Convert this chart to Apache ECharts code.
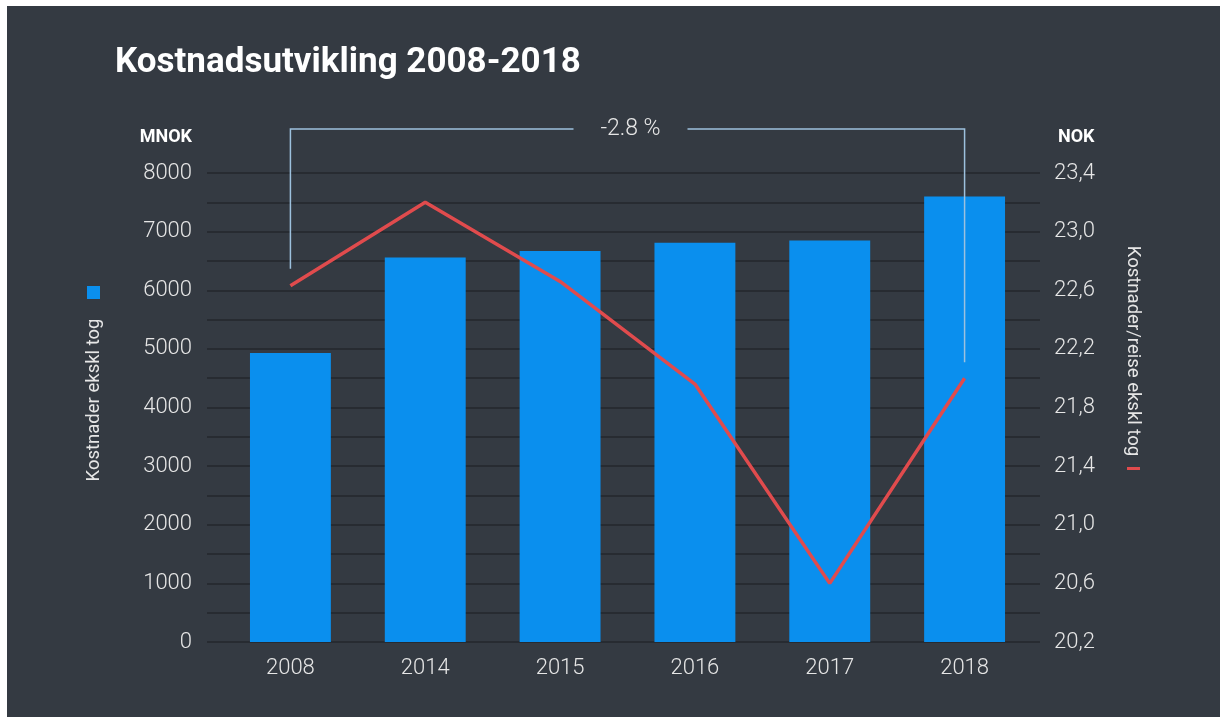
<!DOCTYPE html>
<html><head><meta charset="utf-8">
<script src="https://cdn.jsdelivr.net/npm/echarts@6/dist/echarts.min.js"></script>
<style>
html,body{margin:0;padding:0;background:#ffffff;width:1220px;height:717px;overflow:hidden}
#c{position:absolute;left:7px;top:6px;width:1213px;height:711px;background:#343a42}
</style>
</head><body><div id="c"></div>
<script>
// ---- data ----
const categories = ['2008', '2014', '2015', '2016', '2017', '2018'];
const costs = [4930, 6560, 6670, 6810, 6850, 7600];            // MNOK (bars, left axis)
const costPerTrip = [22.63, 23.20, 22.66, 21.96, 20.60, 22.00]; // NOK (line, right axis)
const leftAxisRange = [0, 8000];
const leftGridStep = 500;
const leftLabelStep = 1000;
const rightAxisRange = [20.2, 23.4];
const rightGridStep = 0.2;
const rightLabelStep = 0.4;
const titleText = 'Kostnadsutvikling 2008-2018';
const barName = 'Kostnader ekskl tog';
const lineName = 'Kostnader/reise ekskl tog';
const leftUnit = 'MNOK';
const rightUnit = 'NOK';

// ---- style ----
const BG = '#343a42';
const GRID = '#23272d';
const TXT = '#e6e6e6';
const BAR = '#0a8fee';
const LINE = '#e04b4d';
const BRACKET = '#9dc1de';
const FONT = 'Roboto, "DejaVu Sans", sans-serif';

const chart = echarts.init(document.getElementById('c'), null, {renderer: 'canvas'});

const gridA = {left: 200, right: 180, top: 167, bottom: 75};
const gridB = {left: 216, right: 188, top: 167, bottom: 75};

const option = {
  backgroundColor: BG,
  animation: false,
  title: {
    text: titleText, left: 108, top: 40, padding: 0,
    textStyle: {color: '#ffffff', fontSize: 35, fontWeight: 'bold', fontFamily: FONT}
  },
  legend: [
    {data: [{name: barName, icon: 'rect'}], left: 80, top: 280, padding: 0,
     itemWidth: 13, itemHeight: 13, selectedMode: false, formatter: () => '',
     textStyle: {fontSize: 1}},
    {data: [{name: lineName, icon: 'rect'}], left: 1120, top: 461, padding: 0,
     itemWidth: 13, itemHeight: 3, selectedMode: false, formatter: () => '',
     textStyle: {fontSize: 1}}
  ],
  grid: [gridA, gridB],
  xAxis: [
    {gridIndex: 0, type: 'category', data: categories, show: false},
    {gridIndex: 1, type: 'category', data: categories,
     axisLine: {show: false}, axisTick: {show: false},
     axisLabel: {color: TXT, fontSize: 22, fontWeight: 300, fontFamily: FONT, margin: 15}}
  ],
  yAxis: [
    {gridIndex: 0, type: 'value', position: 'left', min: leftAxisRange[0], max: leftAxisRange[1],
     interval: leftGridStep,
     axisLine: {show: false}, axisTick: {show: false},
     axisLabel: {color: TXT, fontSize: 22, fontWeight: 300, fontFamily: FONT, margin: 15,
       formatter: v => (Math.round(v - leftAxisRange[0]) % leftLabelStep === 0 ? String(v) : '')},
     splitLine: {show: true, lineStyle: {color: GRID, width: 1.5}}},
    {gridIndex: 0, type: 'value', position: 'right', min: rightAxisRange[0], max: rightAxisRange[1],
     interval: rightGridStep,
     axisLine: {show: false}, axisTick: {show: false}, splitLine: {show: false},
     axisLabel: {color: TXT, fontSize: 22, fontWeight: 300, fontFamily: FONT, margin: 14,
       formatter: v => {
         const k = Math.round((v - rightAxisRange[0]) / rightGridStep);
         const every = Math.round(rightLabelStep / rightGridStep);
         return k % every === 0 ? v.toFixed(1).replace('.', ',') : '';
       }}},
    {gridIndex: 1, type: 'value', min: leftAxisRange[0], max: leftAxisRange[1], show: false},
    {gridIndex: 1, type: 'value', min: rightAxisRange[0], max: rightAxisRange[1], show: false}
  ],
  series: [
    {name: barName, type: 'bar', xAxisIndex: 1, yAxisIndex: 2, data: costs,
     barCategoryGap: '40%', itemStyle: {color: BAR}, z: 2},
    {name: lineName, type: 'line', xAxisIndex: 1, yAxisIndex: 3, data: costPerTrip,
     color: LINE, symbol: 'none', lineStyle: {color: LINE, width: 3.5}, itemStyle: {color: LINE}, z: 3}
  ]
};
chart.setOption(option);

// ---- annotations computed from the scales ----
const p0 = chart.convertToPixel({xAxisIndex: 1, yAxisIndex: 3}, [0, costPerTrip[0]]);
const pN = chart.convertToPixel({xAxisIndex: 1, yAxisIndex: 3}, [categories.length - 1, costPerTrip[costPerTrip.length - 1]]);
const topY = 123;
const cx = (p0[0] + pN[0]) / 2 + 3;
const gap = 57;
const pct = (costPerTrip[costPerTrip.length - 1] / costPerTrip[0] - 1) * 100;
const pctText = pct.toFixed(1) + ' %';

chart.setOption({
  graphic: [
    {type: 'polyline', shape: {points: [[p0[0], p0[1] - 17], [p0[0], topY], [cx - gap, topY]]},
     style: {stroke: BRACKET, lineWidth: 1.5, fill: null}, z: 10},
    {type: 'polyline', shape: {points: [[cx + gap, topY], [pN[0], topY], [pN[0], pN[1] - 16]]},
     style: {stroke: BRACKET, lineWidth: 1.5, fill: null}, z: 10},
    {type: 'text', x: cx, y: topY, style: {text: pctText, fill: TXT, font: '300 23px ' + FONT,
      textAlign: 'center', textVerticalAlign: 'middle'}, z: 10},
    {type: 'text', x: 185, y: 131, style: {text: leftUnit, fill: '#ffffff', font: 'bold 18px ' + FONT,
      textAlign: 'right', textVerticalAlign: 'middle'}},
    {type: 'text', x: 1051, y: 131, style: {text: rightUnit, fill: '#ffffff', font: 'bold 18px ' + FONT,
      textAlign: 'left', textVerticalAlign: 'middle'}},
    {type: 'text', x: 87, y: 394, rotation: Math.PI / 2, style: {text: barName, fill: TXT,
      font: '18.5px ' + FONT, textAlign: 'center', textVerticalAlign: 'middle'}},
    {type: 'text', x: 1126, y: 345, rotation: -Math.PI / 2, style: {text: lineName, fill: TXT,
      font: '18.5px ' + FONT, textAlign: 'center', textVerticalAlign: 'middle'}}
  ]
});
</script>
</body></html>
